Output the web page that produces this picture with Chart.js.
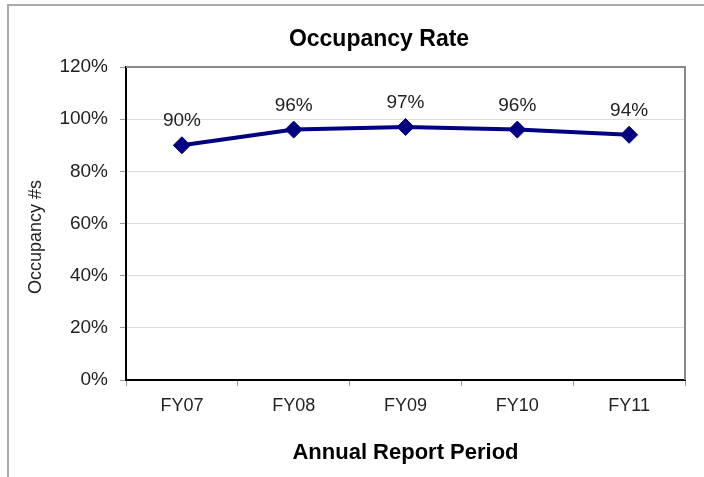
<!DOCTYPE html>
<html>
<head>
<meta charset="utf-8">
<title>Occupancy Rate</title>
<script src="https://cdn.jsdelivr.net/npm/chart.js@4"></script>
<style>
  html, body { margin: 0; padding: 0; background: #fff; overflow: hidden; }
  #frame {
    position: absolute; left: 7px; top: 4px; width: 800px; height: 500px;
    border-left: 2px solid #aaa; border-top: 2px solid #aaa;
  }
  #occChart { position: absolute; left: 0; top: 0; }
</style>
</head>
<body>
<div id="frame"></div>
<canvas id="occChart" width="704" height="477"></canvas>
<script>
const periods = ["FY07", "FY08", "FY09", "FY10", "FY11"];
const occupancy = [90, 96, 97, 96, 94];
const yTicks = { min: 0, max: 120, step: 20 };

const FONT = "'Liberation Sans', Arial, Helvetica, sans-serif";
const TEXT = "#222";

// title, y title, plot border, point labels
const extras = {
  id: "extras",
  beforeDatasetsDraw(chart) {
    const { ctx, chartArea: a } = chart;
    ctx.save();
    ctx.strokeStyle = "#888";
    ctx.lineWidth = 2;
    ctx.beginPath();
    ctx.moveTo(a.left, a.top);
    ctx.lineTo(a.right, a.top);
    ctx.lineTo(a.right, a.bottom);
    ctx.stroke();
    ctx.restore();
  },
  afterDatasetsDraw(chart) {
    const { ctx } = chart;
    const meta = chart.getDatasetMeta(0);
    ctx.save();
    ctx.fillStyle = TEXT;
    ctx.font = "19px " + FONT;
    ctx.textAlign = "center";
    ctx.textBaseline = "middle";
    meta.data.forEach((pt, i) => {
      ctx.fillText(occupancy[i] + "%", pt.x, pt.y - 24);
    });

    ctx.font = "bold 23px " + FONT;
    ctx.fillStyle = "#000";
    ctx.fillText("Occupancy Rate", 379, 40);

    ctx.translate(36, 237);
    ctx.rotate(-Math.PI / 2);
    ctx.font = "18px " + FONT;
    ctx.fillStyle = TEXT;
    ctx.fillText("Occupancy #s", 0, 0);
    ctx.restore();
  }
};

new Chart(document.getElementById("occChart"), {
  type: "line",
  data: {
    labels: periods,
    datasets: [{
      data: occupancy,
      borderColor: "#000080",
      backgroundColor: "#000080",
      borderWidth: 4,
      pointStyle: "rectRot",
      pointRadius: 8.5,
      pointHoverRadius: 8.5,
      pointBorderWidth: 1,
      pointBackgroundColor: "#000080",
      pointBorderColor: "#000080",
      tension: 0
    }]
  },
  options: {
    responsive: false,
    animation: false,
    layout: { padding: { left: 0, top: 67, right: 19, bottom: 0 } },
    plugins: {
      legend: { display: false },
      tooltip: { enabled: false },
      title: { display: false }
    },
    scales: {
      x: {
        offset: true,
        afterFit(scale) { scale.height = 97; },
        grid: {
          offset: true,
          drawOnChartArea: false,
          drawTicks: true,
          tickLength: 6,
          tickColor: "#999"
        },
        border: { color: "#000", width: 2 },
        ticks: { color: TEXT, font: { family: FONT, size: 18 }, padding: 9 },
        title: {
          display: true,
          text: "Annual Report Period",
          color: "#000",
          font: { family: FONT, size: 22, weight: "bold" },
          padding: { top: 0, bottom: 11 }
        }
      },
      y: {
        min: yTicks.min,
        max: yTicks.max,
        afterFit(scale) { scale.width = 126; },
        grid: {
          color: "#ddd",
          lineWidth: 1,
          tickLength: 6,
          tickColor: "#999"
        },
        border: { color: "#000", width: 2 },
        ticks: {
          stepSize: yTicks.step,
          color: TEXT,
          font: { family: FONT, size: 19 },
          padding: 12,
          callback: v => v + "%"
        }
      }
    }
  },
  plugins: [extras]
});
</script>
</body>
</html>
